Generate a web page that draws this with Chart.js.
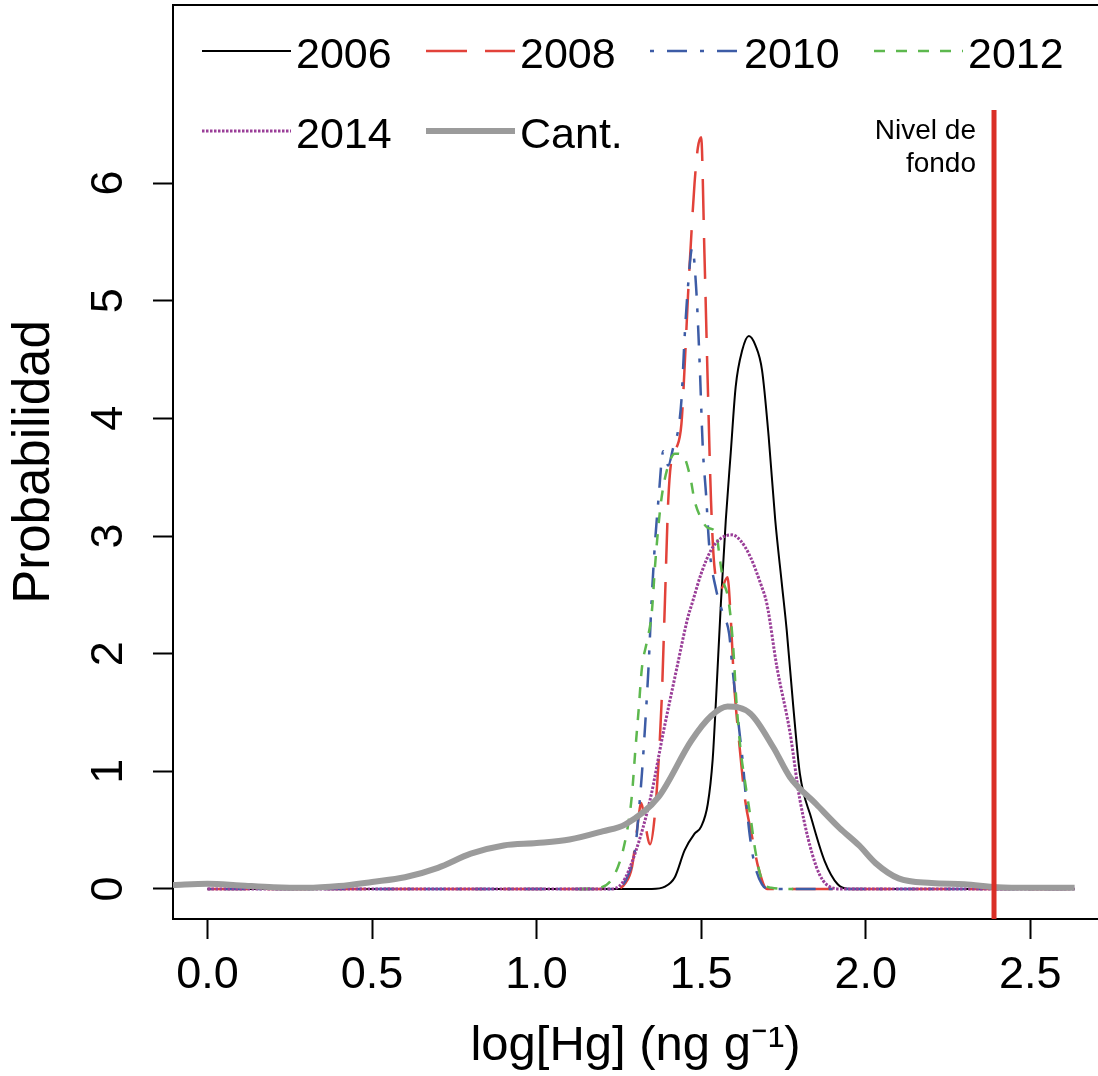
<!DOCTYPE html>
<html>
<head>
<meta charset="utf-8">
<script src="https://cdn.jsdelivr.net/npm/chart.js@4.4.0/dist/chart.umd.min.js"></script>
<style>
  html, body { margin: 0; padding: 0; background: #fff; }
</style>
</head>
<body>
<canvas id="densChart" width="1098" height="1076"></canvas>
<script>
// ejes
const xTicks = [0, 0.5, 1.0, 1.5, 2.0, 2.5];
const yTicks = [0, 1, 2, 3, 4, 5, 6];
const fondoX = 2.39;      // nivel de fondo
const fondoTop = 6.62;

// densidades por año
const x2006 = [0, 1.35, 1.39, 1.42, 1.45, 1.48, 1.50, 1.52, 1.535, 1.545, 1.56, 1.575, 1.59, 1.605, 1.625, 1.645, 1.665, 1.685, 1.705, 1.725, 1.745, 1.76, 1.78, 1.80, 1.835, 1.875, 1.915, 1.95, 2.635];
const y2006 = [0, 0, 0.02, 0.1, 0.33, 0.47, 0.53, 0.72, 1.1, 1.6, 2.43, 3.14, 3.71, 4.27, 4.58, 4.70, 4.62, 4.41, 3.85, 3.14, 2.6, 2.2, 1.55, 0.98, 0.6, 0.24, 0.04, 0, 0];

const x2008 = [0, 1.24, 1.27, 1.29, 1.305, 1.318, 1.33, 1.345, 1.36, 1.37, 1.38, 1.39, 1.40, 1.41, 1.425, 1.44, 1.45, 1.46, 1.47, 1.48, 1.49, 1.50, 1.51, 1.52, 1.53, 1.54, 1.56, 1.58, 1.59, 1.60, 1.613, 1.634, 1.653, 1.674, 1.70, 2.635];
const y2008 = [0, 0, 0.05, 0.19, 0.5, 0.73, 0.55, 0.38, 0.65, 1.05, 1.6, 2.45, 3.3, 3.65, 3.75, 3.95, 4.45, 5.04, 5.55, 6.0, 6.3, 6.39, 5.4, 4.3, 3.3, 2.75, 2.55, 2.65, 2.3, 1.75, 1.32, 0.75, 0.47, 0.18, 0, 0];

const x2010 = [0, 1.24, 1.28, 1.30, 1.31, 1.32, 1.33, 1.34, 1.35, 1.36, 1.37, 1.385, 1.40, 1.415, 1.43, 1.44, 1.45, 1.46, 1.473, 1.485, 1.495, 1.505, 1.515, 1.525, 1.545, 1.565, 1.585, 1.595, 1.615, 1.625, 1.645, 1.66, 1.685, 1.71, 2.635];
const y2010 = [0, 0, 0.13, 0.35, 0.64, 0.98, 1.4, 1.88, 2.48, 2.95, 3.3, 3.72, 3.6, 3.75, 3.9, 4.15, 4.7, 5.12, 5.45, 5.1, 4.5, 3.75, 3.35, 2.9, 2.55, 2.35, 2.17, 1.88, 1.37, 1.12, 0.52, 0.24, 0.04, 0, 0];

const x2012 = [1.13, 1.19, 1.23, 1.26, 1.28, 1.29, 1.30, 1.31, 1.32, 1.335, 1.35, 1.36, 1.37, 1.38, 1.396, 1.42, 1.443, 1.467, 1.48, 1.50, 1.52, 1.545, 1.557, 1.567, 1.58, 1.59, 1.598, 1.607, 1.62, 1.634, 1.65, 1.665, 1.683, 1.713, 1.78];
const y2012 = [0, 0.01, 0.09, 0.30, 0.58, 0.81, 1.18, 1.52, 1.88, 2.1, 2.35, 2.75, 3.08, 3.33, 3.56, 3.7, 3.69, 3.5, 3.3, 3.15, 3.07, 3.03, 2.8, 2.62, 2.5, 2.3, 2.03, 1.6, 1.18, 0.9, 0.61, 0.32, 0.09, 0.01, 0];

const x2014 = [0, 1.22, 1.26, 1.30, 1.345, 1.385, 1.427, 1.458, 1.476, 1.50, 1.53, 1.56, 1.594, 1.62, 1.65, 1.68, 1.70, 1.73, 1.77, 1.80, 1.85, 1.89, 1.93, 2.635];
const y2014 = [0, 0, 0.05, 0.31, 0.76, 1.33, 1.89, 2.29, 2.46, 2.68, 2.88, 2.98, 3.01, 2.96, 2.82, 2.6, 2.42, 1.89, 1.33, 0.76, 0.19, 0.02, 0, 0];

const xCant = [-0.105, 0.0, 0.1, 0.2, 0.3, 0.4, 0.5, 0.6, 0.7, 0.8, 0.9, 1.0, 1.1, 1.2, 1.27, 1.37, 1.47, 1.53, 1.58, 1.65, 1.72, 1.77, 1.85, 1.92, 1.98, 2.03, 2.1, 2.2, 2.3, 2.4, 2.5, 2.635];
const yCant = [0.035, 0.045, 0.03, 0.015, 0.01, 0.025, 0.06, 0.1, 0.18, 0.3, 0.37, 0.39, 0.42, 0.49, 0.55, 0.78, 1.26, 1.47, 1.55, 1.49, 1.2, 0.95, 0.72, 0.52, 0.37, 0.22, 0.09, 0.05, 0.04, 0.015, 0.01, 0.01];

function pts(xs, ys) {
  return xs.map((x, i) => ({ x: x, y: ys[i] }));
}

function serie(label, xs, ys, color, width, dash, order) {
  return {
    label: label,
    data: pts(xs, ys),
    borderColor: color,
    borderWidth: width,
    borderDash: dash,
    pointRadius: 0,
    fill: false,
    cubicInterpolationMode: 'monotone',
    order: order
  };
}

// leyenda dentro del grafico, como en R
const legX = [296, 520, 744, 968];
const legY = [68, 148];

const marcoPlugin = {
  id: 'marco',
  afterDraw(chart) {
    const ctx = chart.ctx;
    const a = chart.chartArea;
    ctx.save();
    // borde superior de la caja
    ctx.strokeStyle = '#000';
    ctx.lineWidth = 2;
    ctx.beginPath();
    ctx.moveTo(a.left - 1, a.top);
    ctx.lineTo(a.right, a.top);
    ctx.stroke();

    // leyenda
    ctx.font = '43px "Liberation Sans", Arial, sans-serif';
    ctx.textBaseline = 'alphabetic';
    ctx.textAlign = 'left';
    chart.data.datasets.forEach((ds, i) => {
      if (!ds.label) return;
      const row = i < 4 ? 0 : 1;
      const tx = legX[i % 4];
      const ty = legY[row];
      ctx.strokeStyle = ds.borderColor;
      ctx.lineWidth = ds.borderWidth;
      ctx.setLineDash(ds.borderDash);
      ctx.beginPath();
      ctx.moveTo(tx - 94, ty - 17);
      ctx.lineTo(tx - 5, ty - 17);
      ctx.stroke();
      ctx.setLineDash([]);
      ctx.fillStyle = '#000';
      ctx.fillText(ds.label, tx, ty);
    });

    // texto del nivel de fondo
    const xs = chart.scales.x, ys = chart.scales.y;
    const px = xs.getPixelForValue(fondoX) - 18;
    const py = ys.getPixelForValue(fondoTop);
    ctx.font = '28px "Liberation Sans", Arial, sans-serif';
    ctx.textAlign = 'right';
    ctx.fillText('Nivel de', px, py + 29);
    ctx.fillText('fondo', px, py + 62);
    ctx.restore();
  }
};

const ctx = document.getElementById('densChart');
const densChart = new Chart(ctx, {
  type: 'line',
  data: {
    datasets: [
      serie('2006', x2006, y2006, '#000000', 2, [], 7),
      serie('2008', x2008, y2008, '#E2423A', 2.5, [41, 18], 6),
      serie('2010', x2010, y2010, '#3D5CA6', 2.5, [4, 13, 20, 13], 5),
      serie('2012', x2012, y2012, '#5DB84E', 2.5, [11, 11], 4),
      serie('2014', x2014, y2014, '#9A3E98', 3, [2.5, 1.5], 3),
      serie('Cant.', xCant, yCant, '#9B9B9B', 6, [], 2),
      {
        label: '',
        data: [{ x: fondoX, y: -0.4 }, { x: fondoX, y: fondoTop }],
        borderColor: '#DA2F27',
        borderWidth: 5,
        pointRadius: 0,
        fill: false,
        order: 1
      }
    ]
  },
  options: {
    responsive: false,
    animation: false,
    devicePixelRatio: 1,
    layout: { padding: { top: 5, left: 0, right: 0, bottom: 0 } },
    plugins: {
      legend: { display: false },
      tooltip: { enabled: false }
    },
    scales: {
      x: {
        type: 'linear',
        min: -0.105,
        max: 2.706,
        afterBuildTicks: (s) => { s.ticks = xTicks.map(v => ({ value: v })); },
        afterFit: (s) => {
          s.height = 157;
          s.paddingLeft = 0;
          s.paddingRight = 0;
        },
        ticks: {
          autoSkip: false,
          maxRotation: 0,
          padding: 10,
          color: '#000',
          font: { family: '"Liberation Sans", Arial, sans-serif', size: 45 },
          callback: (v) => Number(v).toFixed(1)
        },
        grid: {
          drawOnChartArea: false,
          drawTicks: true,
          tickLength: 20,
          tickWidth: 2,
          tickColor: '#000'
        },
        border: { display: true, color: '#000', width: 2 },
        title: {
          display: true,
          text: 'log[Hg] (ng g\u207B\u00B9)',
          color: '#000',
          font: { family: '"Liberation Sans", Arial, sans-serif', size: 49 },
          padding: { top: 0, bottom: 0 }
        }
      },
      y: {
        type: 'linear',
        min: -0.255,
        max: 7.513,
        afterBuildTicks: (s) => { s.ticks = yTicks.map(v => ({ value: v })); },
        afterFit: (s) => {
          s.width = 173;
          s.paddingTop = 0;
          s.paddingBottom = 0;
        },
        ticks: {
          autoSkip: false,
          minRotation: 90,
          maxRotation: 90,
          crossAlign: 'center',
          padding: 31,
          color: '#000',
          font: { family: '"Liberation Sans", Arial, sans-serif', size: 45 },
          callback: (v) => String(v)
        },
        grid: {
          drawOnChartArea: false,
          drawTicks: true,
          tickLength: 20,
          tickWidth: 2,
          tickColor: '#000'
        },
        border: { display: true, color: '#000', width: 2 },
        title: {
          display: true,
          text: 'Probabilidad',
          color: '#000',
          font: { family: '"Liberation Sans", Arial, sans-serif', size: 51 },
          padding: { top: 4, bottom: 0 }
        }
      }
    }
  },
  plugins: [marcoPlugin]
});
</script>
</body>
</html>
